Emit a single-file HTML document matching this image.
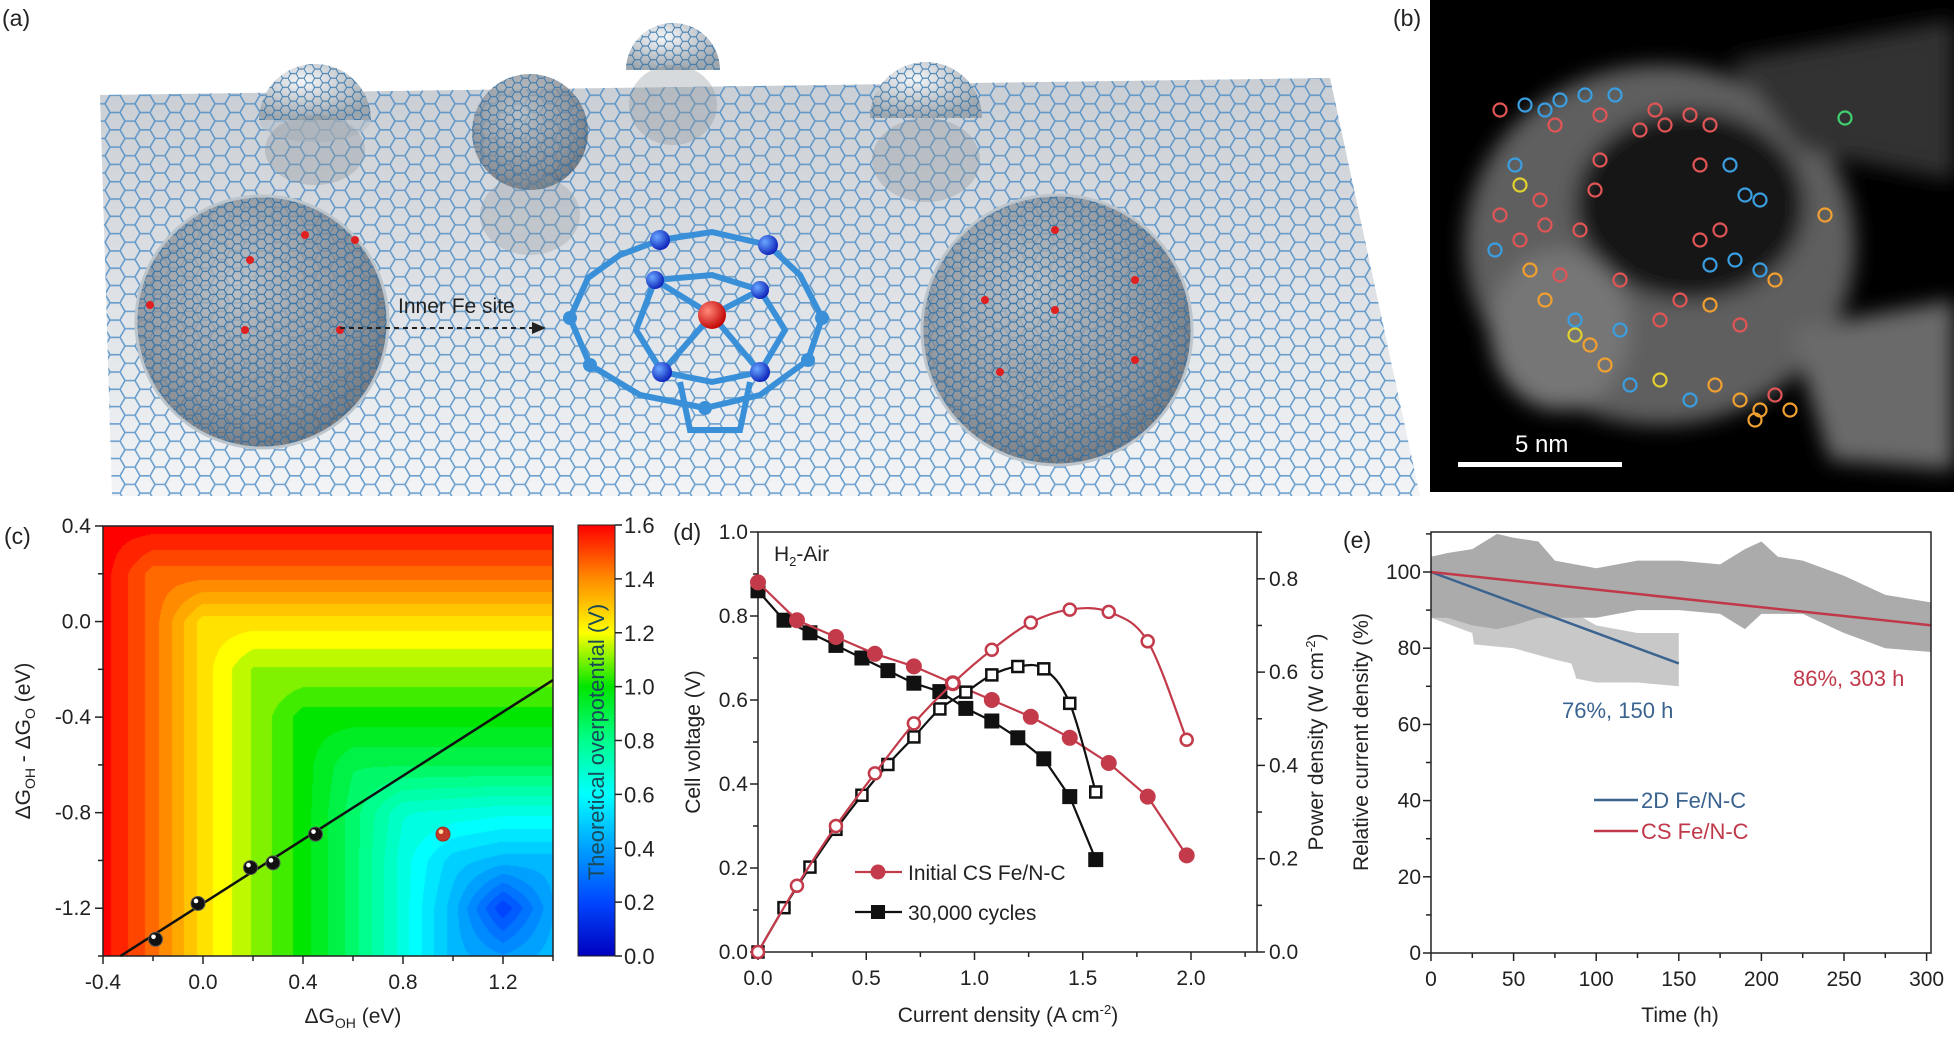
<!DOCTYPE html>
<html><head><meta charset="utf-8">
<style>
html,body{margin:0;padding:0;background:#fff;}
body{width:1954px;height:1037px;position:relative;overflow:hidden;font-family:"Liberation Sans",Arial,sans-serif;}
#hm{position:absolute;left:103px;top:526px;}
#main{position:absolute;left:0;top:0;}
text{font-family:"Liberation Sans",Arial,sans-serif;}
</style></head>
<body>
<canvas id="hm" width="450" height="430"></canvas>
<svg id="main" width="1954" height="1037" xmlns="http://www.w3.org/2000/svg">
<defs>
 <pattern id="hex" width="30" height="17.3" patternUnits="userSpaceOnUse">
  <path d="M0,8.66 L5,0 L15,0 L20,8.66 L15,17.32 L5,17.32 Z M20,8.66 L30,8.66" fill="none" stroke="#3f84c2" stroke-width="1.6"/>
 </pattern>
 <pattern id="hexs" width="16" height="9.2" patternUnits="userSpaceOnUse">
  <path d="M0,4.6 L2.7,0 L8,0 L10.7,4.6 L8,9.2 L2.7,9.2 Z M10.7,4.6 L16,4.6" fill="none" stroke="#2a6fa8" stroke-width="1.1"/>
 </pattern>
 <linearGradient id="plane" x1="0" y1="0" x2="0" y2="1">
  <stop offset="0" stop-color="#c9ced4"/><stop offset="1" stop-color="#f2f4f6"/>
 </linearGradient>
 <radialGradient id="sph" cx="0.4" cy="0.35" r="0.7">
  <stop offset="0" stop-color="#b4bac0"/><stop offset="0.7" stop-color="#7a8088"/><stop offset="1" stop-color="#555a60"/>
 </radialGradient>
 <radialGradient id="sphl" cx="0.4" cy="0.3" r="0.7">
  <stop offset="0" stop-color="#f4f6f8"/><stop offset="1" stop-color="#9ea6ae"/>
 </radialGradient>
 <radialGradient id="ball" cx="0.35" cy="0.35" r="0.7">
  <stop offset="0" stop-color="#6aa8ff"/><stop offset="1" stop-color="#0a1fb8"/>
 </radialGradient>
 <radialGradient id="rball" cx="0.35" cy="0.35" r="0.7">
  <stop offset="0" stop-color="#ff8a7a"/><stop offset="1" stop-color="#c00000"/>
 </radialGradient>
 <filter id="blur8"><feGaussianBlur stdDeviation="10"/></filter>
 <filter id="blur3"><feGaussianBlur stdDeviation="3"/></filter>
 <linearGradient id="cbar" x1="0" y1="1" x2="0" y2="0">
  <stop offset="0" stop-color="rgb(0,0,190)"/>
  <stop offset="0.125" stop-color="rgb(0,70,255)"/>
  <stop offset="0.25" stop-color="rgb(0,160,255)"/>
  <stop offset="0.375" stop-color="rgb(0,255,255)"/>
  <stop offset="0.5" stop-color="rgb(0,255,140)"/>
  <stop offset="0.625" stop-color="rgb(0,230,0)"/>
  <stop offset="0.75" stop-color="rgb(255,255,0)"/>
  <stop offset="0.875" stop-color="rgb(255,140,0)"/>
  <stop offset="1" stop-color="rgb(255,0,0)"/>
 </linearGradient>
</defs>

<!-- Panel (a) -->
<g>
 <polygon points="100,95 1330,78 1420,496 112,496" fill="url(#plane)"/>
 <polygon points="100,95 1330,78 1420,496 112,496" fill="url(#hex)" opacity="0.75"/>
 <g><ellipse cx="315" cy="120" rx="56" ry="22" fill="#b8c0c8" opacity="0.6"/><path d="M259,120 A56,56 0 0 1 371,120 Z" fill="url(#sphl)"/><path d="M259,120 A56,56 0 0 1 371,120 Z" fill="url(#hexs)" opacity="0.8"/><ellipse cx="315" cy="150" rx="50" ry="35" fill="#8c949c" opacity="0.35"/></g>
 <g><circle cx="530" cy="132" r="58" fill="url(#sph)" opacity="0.75"/><circle cx="530" cy="132" r="58" fill="url(#hexs)" opacity="0.8"/><ellipse cx="530" cy="215" rx="50" ry="40" fill="#8c949c" opacity="0.3"/></g>
 <g><path d="M626,70 A47,47 0 0 1 720,70 Z" fill="url(#sphl)"/><path d="M626,70 A47,47 0 0 1 720,70 Z" fill="url(#hexs)" opacity="0.8"/><ellipse cx="673" cy="105" rx="44" ry="40" fill="#8c949c" opacity="0.35"/></g>
 <g><path d="M870,118 A56,56 0 0 1 982,118 Z" fill="url(#sphl)"/><path d="M870,118 A56,56 0 0 1 982,118 Z" fill="url(#hexs)" opacity="0.8"/><ellipse cx="926" cy="160" rx="54" ry="42" fill="#8c949c" opacity="0.35"/></g>
 <g><circle cx="262" cy="322" r="126" fill="url(#sph)" opacity="0.8"/><circle cx="262" cy="322" r="126" fill="url(#hexs)" opacity="0.9"/><circle cx="262" cy="322" r="126" fill="none" stroke="#bcc4cc" stroke-width="3"/>
  <circle cx="250" cy="260" r="4" fill="#e02020"/><circle cx="305" cy="235" r="4" fill="#e02020"/><circle cx="150" cy="305" r="4" fill="#e02020"/><circle cx="245" cy="330" r="4" fill="#e02020"/><circle cx="340" cy="330" r="4" fill="#e02020"/><circle cx="355" cy="240" r="4" fill="#e02020"/></g>
 <g><circle cx="1057" cy="330" r="135" fill="url(#sph)" opacity="0.8"/><circle cx="1057" cy="330" r="135" fill="url(#hexs)" opacity="0.9"/><circle cx="1057" cy="330" r="135" fill="none" stroke="#bcc4cc" stroke-width="3"/>
  <circle cx="985" cy="300" r="4" fill="#e02020"/><circle cx="1055" cy="310" r="4" fill="#e02020"/><circle cx="1135" cy="280" r="4" fill="#e02020"/><circle cx="1000" cy="372" r="4" fill="#e02020"/><circle cx="1135" cy="360" r="4" fill="#e02020"/><circle cx="1055" cy="230" r="4" fill="#e02020"/></g>
 <g stroke="#3a90d8" stroke-width="6" fill="none">
  <polygon points="660,240 712,232 768,245 800,275 822,318 808,360 760,395 705,408 640,395 590,365 570,318 588,278 620,255"/>
  <polygon points="655,280 712,275 760,290 785,330 760,372 712,382 662,372 636,330"/>
  <line x1="712" y1="315" x2="655" y2="280"/><line x1="712" y1="315" x2="760" y2="290"/><line x1="712" y1="315" x2="662" y2="372"/><line x1="712" y1="315" x2="760" y2="372"/>
  <polyline points="680,382 690,430 740,430 750,382"/>
 </g>
 <g>
  <circle cx="660" cy="240" r="10" fill="url(#ball)"/><circle cx="768" cy="245" r="10" fill="url(#ball)"/><circle cx="655" cy="280" r="9" fill="url(#ball)"/><circle cx="760" cy="290" r="9" fill="url(#ball)"/><circle cx="662" cy="372" r="10" fill="url(#ball)"/><circle cx="760" cy="372" r="10" fill="url(#ball)"/><circle cx="590" cy="365" r="7" fill="#3a90d8"/><circle cx="808" cy="360" r="7" fill="#3a90d8"/><circle cx="705" cy="408" r="7" fill="#3a90d8"/><circle cx="822" cy="318" r="7" fill="#3a90d8"/><circle cx="570" cy="318" r="7" fill="#3a90d8"/>
  <circle cx="712" cy="315" r="14" fill="url(#rball)"/>
 </g>
 <text x="398" y="313" font-size="21" fill="#222">Inner Fe site</text>
 <line x1="340" y1="328" x2="540" y2="328" stroke="#222" stroke-width="2" stroke-dasharray="5,4"/>
 <polygon points="546,328 532,322 532,334" fill="#222"/>
</g>
<text x="2" y="26" font-size="23" fill="#222">(a)</text>

<!-- Panel (b) -->
<g>
 <rect x="1430" y="0" width="524" height="492" fill="#000"/>
 <g filter="url(#blur8)">
  <ellipse cx="1660" cy="245" rx="195" ry="180" fill="#5e5e5e"/>
  <ellipse cx="1690" cy="205" rx="115" ry="95" fill="#141414"/>
  <polygon points="1790,330 1954,300 1954,470 1830,460" fill="#6a6a6a"/>
  <polygon points="1730,60 1954,20 1954,180 1800,150" fill="#333"/>
  <ellipse cx="1560" cy="330" rx="70" ry="80" fill="#767676"/>
 </g>
 <g id="temdots" fill="none" stroke-width="2.2"></g>
 <rect x="1458" y="462" width="164" height="5" fill="#fff"/>
 <text x="1515" y="452" font-size="24" fill="#fff">5 nm</text>
</g>
<text x="1393" y="26" font-size="23" fill="#222">(b)</text>

<g id="chartC"></g>
<g id="chartD"></g>
<g id="chartE"></g>
</svg>

<script>
// ===== Panel (c) data =====
const cGridA = [-0.4,-0.2,0.0,0.2,0.4,0.6,0.8,1.0,1.2,1.4];
const cGridB = [0.4,0.2,0.0,-0.2,-0.4,-0.6,-0.8,-1.0,-1.2,-1.4];
const cEta = [
 [1.6,1.6,1.6,1.6,1.6,1.6,1.6,1.6,1.6,1.6],
 [1.6,1.45,1.45,1.45,1.45,1.45,1.45,1.45,1.45,1.45],
 [1.6,1.45,1.25,1.25,1.25,1.25,1.25,1.25,1.25,1.25],
 [1.6,1.45,1.25,1.12,1.12,1.12,1.12,1.12,1.12,1.12],
 [1.6,1.45,1.25,1.12,1.0,1.0,1.0,1.0,1.0,1.0],
 [1.6,1.45,1.25,1.12,1.0,0.88,0.88,0.88,0.88,0.88],
 [1.6,1.45,1.25,1.12,1.0,0.85,0.68,0.66,0.64,0.64],
 [1.6,1.45,1.25,1.12,1.0,0.85,0.65,0.5,0.45,0.45],
 [1.6,1.45,1.25,1.12,1.0,0.85,0.65,0.45,0.18,0.42],
 [1.6,1.45,1.25,1.12,1.0,0.85,0.65,0.45,0.38,0.45]
];
const cPtsX = [-0.19,-0.02,0.19,0.28,0.45];
const cPtsY = [-1.33,-1.18,-1.03,-1.01,-0.89];
const cRedX = [0.96];
const cRedY = [-0.89];
const cFitX = [-0.33,1.4];
const cFitY = [-1.4,-0.245];
const cXTicks = ["-0.4","0.0","0.4","0.8","1.2"];
const cYTicks = ["0.4","0.0","-0.4","-0.8","-1.2"];
const cbTicks = ["0.0","0.2","0.4","0.6","0.8","1.0","1.2","1.4","1.6"];

// ===== Panel (d) data =====
const dInitI = [0,0.18,0.36,0.54,0.72,0.9,1.08,1.26,1.44,1.62,1.8,1.98];
const dInitV = [0.88,0.79,0.75,0.71,0.68,0.64,0.60,0.56,0.51,0.45,0.37,0.23];
const dInitP = [0,0.142,0.27,0.383,0.49,0.576,0.648,0.706,0.734,0.729,0.666,0.455];
const dCycI = [0,0.12,0.24,0.36,0.48,0.60,0.72,0.84,0.96,1.08,1.20,1.32,1.44,1.56];
const dCycV = [0.86,0.79,0.76,0.73,0.70,0.67,0.64,0.62,0.58,0.55,0.51,0.46,0.37,0.22];
const dCycP = [0,0.095,0.182,0.263,0.336,0.402,0.461,0.521,0.557,0.594,0.612,0.607,0.533,0.343];
const dXTicks = ["0.0","0.5","1.0","1.5","2.0"];
const dYLTicks = ["0.0","0.2","0.4","0.6","0.8","1.0"];
const dYRTicks = ["0.0","0.2","0.4","0.6","0.8"];

// ===== Panel (e) data =====
const eCSBandT = [0,10,25,40,50,65,75,100,125,150,175,190,200,210,225,250,275,303];
const eCSUpper = [104,105,106,110,109,108,103,101,103,103,102,106,108,104,103,99,94,92];
const eCSLower = [88,88,86,85,86,88,88,88,90,90,89,85,89,89,89,84,80,79];
const e2DBandT = [0,25,26,50,75,85,88,100,125,150];
const e2DUpper = [100,98,98,95,92,90,89,86,84,84];
const e2DLower = [88,84,81,80,77,76,72,71,71,70];
const eTime2D = [0,150];
const eRel2D = [100,76];
const eTimeCS = [0,303];
const eRelCS = [100,86];
const eXTicks = ["0","50","100","150","200","250","300"];
const eYTicks = ["0","20","40","60","80","100"];

const NS = "http://www.w3.org/2000/svg";
function mk(parent, tag, attrs, txt){
  const el = document.createElementNS(NS, tag);
  for (const k in attrs) el.setAttribute(k, attrs[k]);
  if (txt !== undefined) el.textContent = txt;
  parent.appendChild(el);
  return el;
}
function smoothPath(pts){
  let d = "M" + pts[0][0] + "," + pts[0][1];
  for (let i=0;i<pts.length-1;i++){
    const p0 = pts[Math.max(0,i-1)], p1 = pts[i], p2 = pts[i+1], p3 = pts[Math.min(pts.length-1,i+2)];
    const c1x = p1[0]+(p2[0]-p0[0])/6, c1y = p1[1]+(p2[1]-p0[1])/6;
    const c2x = p2[0]-(p3[0]-p1[0])/6, c2y = p2[1]-(p3[1]-p1[1])/6;
    d += " C"+c1x+","+c1y+" "+c2x+","+c2y+" "+p2[0]+","+p2[1];
  }
  return d;
}
const FS = 21, TC = "#222";

// ---------- Panel (b) dots (decorative) ----------
(function(){
  const g = document.getElementById("temdots");
  const dots = [
   [1500,110,"#e05555"],[1525,105,"#3a9ee0"],[1545,110,"#3a9ee0"],[1560,100,"#3a9ee0"],[1585,95,"#3a9ee0"],[1615,95,"#3a9ee0"],[1555,125,"#e05555"],[1600,115,"#e05555"],[1640,130,"#e05555"],[1665,125,"#e05555"],[1690,115,"#e05555"],[1710,125,"#e05555"],[1655,110,"#e05555"],
   [1515,165,"#3a9ee0"],[1520,185,"#e0d030"],[1540,200,"#e05555"],[1600,160,"#e05555"],[1595,190,"#e05555"],[1700,165,"#e05555"],[1730,165,"#3a9ee0"],[1745,195,"#3a9ee0"],[1760,200,"#3a9ee0"],[1720,230,"#e05555"],
   [1500,215,"#e05555"],[1520,240,"#e05555"],[1545,225,"#e05555"],[1580,230,"#e05555"],[1495,250,"#3a9ee0"],[1530,270,"#f0a030"],[1560,275,"#e05555"],[1620,280,"#e05555"],[1700,240,"#e05555"],[1710,265,"#3a9ee0"],[1735,260,"#3a9ee0"],[1760,270,"#3a9ee0"],[1775,280,"#f0a030"],
   [1545,300,"#f0a030"],[1575,320,"#3a9ee0"],[1590,345,"#f0a030"],[1620,330,"#3a9ee0"],[1660,320,"#e05555"],[1680,300,"#e05555"],[1710,305,"#f0a030"],[1740,325,"#e05555"],
   [1575,335,"#e0d030"],[1605,365,"#f0a030"],[1630,385,"#3a9ee0"],[1660,380,"#e0d030"],[1690,400,"#3a9ee0"],[1715,385,"#f0a030"],[1740,400,"#f0a030"],[1760,410,"#f0a030"],[1775,395,"#e05555"],[1790,410,"#f0a030"],[1755,420,"#f0a030"],[1825,215,"#f0a030"],[1845,118,"#40d070"]
  ];
  dots.forEach(function(d){
    const c = mk(g,"circle",{cx:d[0],cy:d[1],r:6.5,stroke:d[2]});
    
    
  });
})();

// ---------- Panel (c) ----------
(function(){
  const g = document.getElementById("chartC");
  const L=103, R=553, T=526, B=956;
  const X = a => L + (a+0.4)/1.8*(R-L);
  const Y = b => T + (0.4-b)/1.8*(B-T);
  const cv = document.getElementById("hm"), ctx = cv.getContext("2d");
  const W = cv.width, H = cv.height, img = ctx.createImageData(W,H);
  const stops = [[0,0,0,190],[0.2,0,70,255],[0.4,0,160,255],[0.6,0,255,255],[0.8,0,255,140],[1.0,0,230,0],[1.2,255,255,0],[1.4,255,140,0],[1.6,255,0,0]];
  function cmap(v){
    v = Math.max(0,Math.min(1.6,v));
    for (let i=0;i<stops.length-1;i++){
      if (v<=stops[i+1][0]){
        const t=(v-stops[i][0])/(stops[i+1][0]-stops[i][0]);
        return [0,1,2].map(k=>stops[i][k+1]+t*(stops[i+1][k+1]-stops[i][k+1]));
      }
    }
    return [255,0,0];
  }
  const da = cGridA[1]-cGridA[0], db = cGridB[0]-cGridB[1];
  for (let py=0;py<H;py++){
    const b = 0.4 - 1.8*(py+0.5)/H;
    let fj = (cGridB[0]-b)/db; let j0=Math.min(cGridB.length-2,Math.floor(fj)); let tj=fj-j0;
    for (let px=0;px<W;px++){
      const a = -0.4 + 1.8*(px+0.5)/W;
      let fi = (a-cGridA[0])/da; let i0=Math.min(cGridA.length-2,Math.floor(fi)); let ti=fi-i0;
      const v = (1-tj)*((1-ti)*cEta[j0][i0]+ti*cEta[j0][i0+1]) + tj*((1-ti)*cEta[j0+1][i0]+ti*cEta[j0+1][i0+1]);
      const q = Math.round(v/0.05)*0.05;
      const c = cmap(q), o=(py*W+px)*4;
      img.data[o]=c[0]; img.data[o+1]=c[1]; img.data[o+2]=c[2]; img.data[o+3]=255;
    }
  }
  ctx.putImageData(img,0,0);
  const frame = mk(g,"rect",{x:L,y:T,width:R-L,height:B-T,fill:"none",stroke:"#222","stroke-width":1.5});
  
  
  for (let k=0;k<=9;k++){
    const a = -0.4 + k*0.2, x = X(a), major = k%2===0;
    const t = mk(g,"line",{x1:x,y1:B,x2:x,y2:B+(major?8:5),stroke:"#222","stroke-width":1.5});
    
    
  }
  cXTicks.forEach(function(s){
    const lb = mk(g,"text",{x:X(parseFloat(s)),y:B+33,"font-size":FS,"text-anchor":"middle",fill:TC},s);
    
    
  });
  for (let k=0;k<=9;k++){
    const b = 0.4 - k*0.2, y = Y(b), major = k%2===0;
    const t = mk(g,"line",{x1:L,y1:y,x2:L-(major?8:5),y2:y,stroke:"#222","stroke-width":1.5});
    
    
  }
  cYTicks.forEach(function(s){
    const lb = mk(g,"text",{x:L-12,y:Y(parseFloat(s))+7,"font-size":FS,"text-anchor":"end",fill:TC},s);
    
    
  });
  const xt = mk(g,"text",{x:(L+R)/2+25,y:1023,"font-size":FS,"text-anchor":"middle",fill:TC});
  xt.innerHTML = 'ΔG<tspan font-size="14" dy="5">OH</tspan><tspan dy="-5"> (eV)</tspan>';
  
  
  const yt = mk(g,"text",{x:0,y:0,"font-size":FS,"text-anchor":"middle",fill:TC,transform:"translate(30,741) rotate(-90)"});
  yt.innerHTML = 'ΔG<tspan font-size="14" dy="5">OH</tspan><tspan dy="-5"> - ΔG</tspan><tspan font-size="14" dy="5">O</tspan><tspan dy="-5"> (eV)</tspan>';
  
  
  const fit = mk(g,"line",{x1:X(cFitX[0]),y1:Y(cFitY[0]),x2:X(cFitX[1]),y2:Y(cFitY[1]),stroke:"#111","stroke-width":2.5});
  
  
  cPtsX.forEach(function(a,i){
    const p = mk(g,"circle",{cx:X(a),cy:Y(cPtsY[i]),r:7,fill:"#111",stroke:"#555","stroke-width":1});
    
    
    mk(g,"circle",{cx:X(a)-2,cy:Y(cPtsY[i])-2.5,r:2.3,fill:"#fff"});
  });
  cRedX.forEach(function(a,i){
    const p = mk(g,"circle",{cx:X(a),cy:Y(cRedY[i]),r:7,fill:"#c0392b",stroke:"#a03020","stroke-width":1});
    
    
    mk(g,"circle",{cx:X(a)-2,cy:Y(cRedY[i])-2.5,r:2.3,fill:"#ffe0a0"});
  });
  const cbL=578, cbR=615, cbT=525, cbB=956;
  const cb = mk(g,"rect",{x:cbL,y:cbT,width:cbR-cbL,height:cbB-cbT,fill:"url(#cbar)",stroke:"#222","stroke-width":1});
  
  
  const CY = v => cbB - v/1.6*(cbB-cbT);
  cbTicks.forEach(function(s){
    const v = parseFloat(s), y = CY(v);
    const t = mk(g,"line",{x1:cbR,y1:y,x2:cbR+7,y2:y,stroke:"#222","stroke-width":1.5});
    
    
    const lb = mk(g,"text",{x:cbR+9,y:y+8,"font-size":FS+1,fill:TC},s);
    
    
  });
  const ct = mk(g,"text",{x:0,y:0,"font-size":FS+1,"text-anchor":"middle",fill:"#1a4a5a",transform:"translate(604,742) rotate(-90)"},"Theoretical overpotential (V)");
  
  
  const pl = mk(g,"text",{x:4,y:544,"font-size":23,fill:TC},"(c)");
  
  
})();

// ---------- Panel (d) ----------
(function(){
  const g = document.getElementById("chartD");
  const L=758, R=1257, T=532, B=952;
  const X = v => L + v*216.5;
  const YL = v => B - v*(B-T);
  const YR = p => B - p*466.5;
  const RED="#c33b4b", BLK="#111";
  const frame = mk(g,"rect",{x:L,y:T,width:R-L,height:B-T,fill:"none",stroke:"#222","stroke-width":1.5});
  
  
  for (let k=0;k<=9;k++){
    const x = X(k*0.25); if (x>R) break;
    const t = mk(g,"line",{x1:x,y1:B,x2:x,y2:B+(k%2===0?8:5),stroke:"#222","stroke-width":1.5});
    
    
  }
  dXTicks.forEach(function(s){
    const lb = mk(g,"text",{x:X(parseFloat(s)),y:B+33,"font-size":FS,"text-anchor":"middle",fill:TC},s);
    
    
  });
  for (let k=0;k<=10;k++){
    const y = YL(k*0.1);
    const t = mk(g,"line",{x1:L,y1:y,x2:L-(k%2===0?8:5),y2:y,stroke:"#222","stroke-width":1.5});
    
    
  }
  dYLTicks.forEach(function(s){
    const lb = mk(g,"text",{x:L-10,y:YL(parseFloat(s))+7,"font-size":FS,"text-anchor":"end",fill:TC},s);
    
    
  });
  for (let k=0;k<=9;k++){
    const y = YR(k*0.1);
    const t = mk(g,"line",{x1:R,y1:y,x2:R+(k%2===0?8:5),y2:y,stroke:"#222","stroke-width":1.5});
    
    
  }
  dYRTicks.forEach(function(s){
    const lb = mk(g,"text",{x:R+12,y:YR(parseFloat(s))+7,"font-size":FS,fill:TC},s);
    
    
  });
  const xt = mk(g,"text",{x:1008,y:1022,"font-size":FS,"text-anchor":"middle",fill:TC});
  xt.innerHTML = 'Current density (A cm<tspan font-size="13" dy="-8">-2</tspan><tspan dy="8">)</tspan>';
  
  
  const yl = mk(g,"text",{x:0,y:0,"font-size":FS,"text-anchor":"middle",fill:TC,transform:"translate(700,742) rotate(-90)"},"Cell voltage (V)");
  
  
  const yr = mk(g,"text",{x:0,y:0,"font-size":FS,"text-anchor":"middle",fill:TC,transform:"translate(1323,742) rotate(-90)"});
  yr.innerHTML = 'Power density (W cm<tspan font-size="13" dy="-8">-2</tspan><tspan dy="8">)</tspan>';
  
  
  const h2 = mk(g,"text",{x:774,y:561,"font-size":FS,fill:TC});
  h2.innerHTML = 'H<tspan font-size="13" dy="5">2</tspan><tspan dy="-5">-Air</tspan>';
  
  

  function series(xs, ys, yfun, color, kind, open, name, smooth){
    const pts = xs.map((x,i)=>[X(x), yfun(ys[i])]);
    const d = smooth ? smoothPath(pts) : "M"+pts.map(p=>p[0]+","+p[1]).join(" L");
    const ln = mk(g,"path",{d:d,fill:"none",stroke:color,"stroke-width":2.2});
    
    
    pts.forEach(function(p){
      let m;
      if (kind==="circle") m = mk(g,"circle",{cx:p[0],cy:p[1],r:open?6:7.5,fill:open?"#fff":color,stroke:color,"stroke-width":open?2.5:1});
      else m = mk(g,"rect",{x:p[0]-(open?5.5:7),y:p[1]-(open?5.5:7),width:open?11:14,height:open?11:14,fill:open?"#fff":color,stroke:color,"stroke-width":open?2.5:1});
      
      
    });
  }
  series(dCycI, dCycV, YL, BLK, "square", false, "cycled-voltage", false);
  series(dInitI, dInitV, YL, RED, "circle", false, "initial-voltage", false);
  series(dCycI, dCycP, YR, BLK, "square", true, "cycled-power", true);
  series(dInitI, dInitP, YR, RED, "circle", true, "initial-power", true);
  const lg = mk(g,"g",{});
  
  
  mk(lg,"line",{x1:855,y1:872,x2:902,y2:872,stroke:RED,"stroke-width":2.2});
  mk(lg,"circle",{cx:878,cy:872,r:7.5,fill:RED});
  const l1 = mk(lg,"text",{x:908,y:880,"font-size":FS,fill:TC},"Initial CS Fe/N-C");
  
  
  mk(lg,"line",{x1:855,y1:912,x2:902,y2:912,stroke:BLK,"stroke-width":2.2});
  mk(lg,"rect",{x:871,y:905,width:14,height:14,fill:BLK});
  const l2 = mk(lg,"text",{x:908,y:920,"font-size":FS,fill:TC},"30,000 cycles");
  
  
  const pl = mk(g,"text",{x:673,y:540,"font-size":23,fill:TC},"(d)");
  
  
})();

// ---------- Panel (e) ----------
(function(){
  const g = document.getElementById("chartE");
  const L=1431, R=1931, T=532, B=953;
  const X = t => L + t*1.652;
  const Y = p => B - p*3.81;
  function band(ts, up, lo, color, name){
    const pts = ts.map((t,i)=>X(t)+","+Y(up[i])).concat(ts.slice().reverse().map((t,i)=>X(t)+","+Y(lo[ts.length-1-i])));
    const b = mk(g,"polygon",{points:pts.join(" "),fill:color});
    
    
  }
  band(e2DBandT, e2DUpper, e2DLower, "#c8c8c8", "raw-band-2d");
  band(eCSBandT, eCSUpper, eCSLower, "#ababab", "raw-band-cs");
  const l2d = mk(g,"line",{x1:X(eTime2D[0]),y1:Y(eRel2D[0]),x2:X(eTime2D[1]),y2:Y(eRel2D[1]),stroke:"#3b6390","stroke-width":2.5});
  
  
  const lcs = mk(g,"line",{x1:X(eTimeCS[0]),y1:Y(eRelCS[0]),x2:X(eTimeCS[1]),y2:Y(eRelCS[1]),stroke:"#c0394a","stroke-width":2.5});
  
  
  const frame = mk(g,"rect",{x:L,y:T,width:R-L,height:B-T,fill:"none",stroke:"#222","stroke-width":1.5});
  
  
  for (let k=0;k<=12;k++){
    const x = X(k*25);
    const t = mk(g,"line",{x1:x,y1:B,x2:x,y2:B+(k%2===0?8:5),stroke:"#222","stroke-width":1.5});
    
    
  }
  eXTicks.forEach(function(s){
    const lb = mk(g,"text",{x:X(parseFloat(s)),y:B+33,"font-size":FS,"text-anchor":"middle",fill:TC},s);
    
    
  });
  for (let k=0;k<=11;k++){
    const y = Y(k*10);
    const t = mk(g,"line",{x1:L,y1:y,x2:L-(k%2===0?8:5),y2:y,stroke:"#222","stroke-width":1.5});
    
    
  }
  eYTicks.forEach(function(s){
    const lb = mk(g,"text",{x:L-10,y:Y(parseFloat(s))+7,"font-size":FS,"text-anchor":"end",fill:TC},s);
    
    
  });
  const xt = mk(g,"text",{x:1680,y:1022,"font-size":FS,"text-anchor":"middle",fill:TC},"Time (h)");
  
  
  const yt = mk(g,"text",{x:0,y:0,"font-size":FS,"text-anchor":"middle",fill:TC,transform:"translate(1368,742) rotate(-90)"},"Relative current density (%)");
  
  
  const a1 = mk(g,"text",{x:1562,y:718,"font-size":FS+1,fill:"#3b6390"},"76%, 150 h");
  
  
  const a2 = mk(g,"text",{x:1793,y:686,"font-size":FS+1,fill:"#c0394a"},"86%, 303 h");
  
  
  const lg = mk(g,"g",{});
  
  
  mk(lg,"line",{x1:1594,y1:800,x2:1638,y2:800,stroke:"#3b6390","stroke-width":2.5});
  const e1 = mk(lg,"text",{x:1641,y:808,"font-size":FS+1,fill:"#3b6390"},"2D Fe/N-C");
  
  
  mk(lg,"line",{x1:1594,y1:831,x2:1638,y2:831,stroke:"#c0394a","stroke-width":2.5});
  const e2 = mk(lg,"text",{x:1641,y:839,"font-size":FS+1,fill:"#c0394a"},"CS Fe/N-C");
  
  
  const pl = mk(g,"text",{x:1343,y:548,"font-size":23,fill:TC},"(e)");
  
  
})();
</script>
</body></html>
